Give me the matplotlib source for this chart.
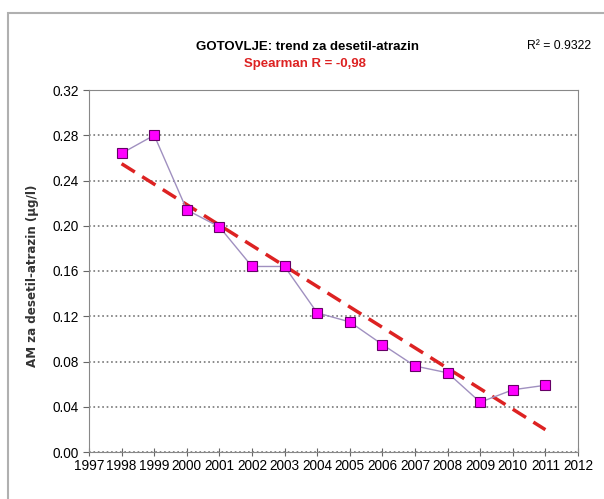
import numpy as np
import matplotlib.pyplot as plt
from matplotlib.patches import Rectangle

plt.rcParams['font.family'] = ['Liberation Sans Narrow', 'Liberation Sans', 'DejaVu Sans']

years = [1998, 1999, 2000, 2001, 2002, 2003, 2004, 2005, 2006, 2007, 2008, 2009, 2010, 2011]
values = [0.264, 0.280, 0.214, 0.199, 0.164, 0.164, 0.123, 0.115, 0.095, 0.076, 0.070, 0.044, 0.055, 0.059]
yticks = [0.00, 0.04, 0.08, 0.12, 0.16, 0.20, 0.24, 0.28, 0.32]
xticks = list(range(1997, 2013))

# linear trend through the points
coef = np.polyfit(years, values, 1)
trend = np.polyval(coef, years)

fig = plt.figure(figsize=(6.04, 4.99), dpi=100)
fig.patches.append(Rectangle((8 / 604, -0.05), 1.2, 1 - 13 / 499 + 0.05,
                             transform=fig.transFigure, fill=False,
                             edgecolor='#b0b0b0', linewidth=1.5))

ax = fig.add_axes([89 / 604, 1 - 452 / 499, (578 - 89) / 604, (452 - 90) / 499])

ax.plot(years, trend, color='#dd2222', linestyle=(0, (4.5, 2.5)), linewidth=2.5, zorder=3)
ax.plot(years, values, color='#a090c0', linewidth=1.0, marker='s', markersize=7.5,
        markerfacecolor='#ff00ff', markeredgecolor='#660066', markeredgewidth=0.8, zorder=4)

ax.set_xlim(1997, 2012)
ax.set_ylim(0, 0.32)
ax.set_xticks(xticks)
ax.set_yticks(yticks)
ax.set_yticklabels(['%.2f' % v for v in yticks])
ax.yaxis.grid(True, color='#777777', linestyle=':', linewidth=1.2)
ax.set_axisbelow(True)
for s in ax.spines.values():
    s.set_color('#888888')
ax.tick_params(axis='x', direction='inout', length=6, color='#666666', labelsize=9.8, pad=2)
ax.tick_params(axis='y', direction='out', length=4, color='#666666', labelsize=9.8)

fig.text(33 / 604, 1 - 276 / 499, 'AM za desetil-atrazin (\u00b5g/l)', rotation=90,
         ha='center', va='center', fontsize=8.6, fontweight='bold', color='#333333',
         family=['DejaVu Sans'])
fig.text(307 / 604, 1 - 47 / 499, 'GOTOVLJE: trend za desetil-atrazin', ha='center', va='center',
         fontsize=9.5, fontweight='bold')
fig.text(305 / 604, 1 - 64 / 499, 'Spearman R = -0,98', ha='center', va='center',
         fontsize=9.5, fontweight='bold', color='#dd2222')
fig.text(559 / 604, 1 - 46 / 499, 'R\u00b2 = 0.9322', ha='center', va='center', fontsize=8.8)

fig.savefig('out.png', dpi=100)
